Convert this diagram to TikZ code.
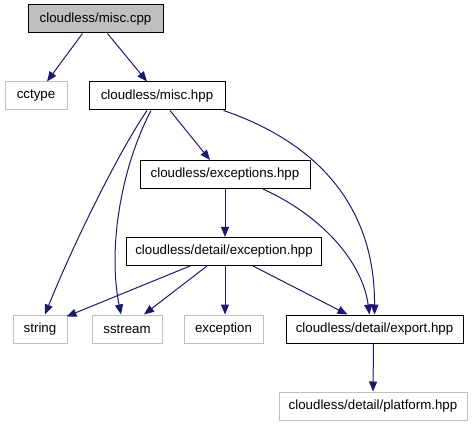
\documentclass[tikz,border=0pt]{standalone}
\usepackage{fontspec}
\setmainfont{Liberation Sans}
\usetikzlibrary{arrows.meta}
\definecolor{edgeblue}{HTML}{191970}
\definecolor{undoc}{HTML}{BFBFBF}
\tikzset{
  box/.style={rectangle, inner sep=0pt, minimum height=28pt, line width=1pt,
    font=\fontsize{13.3}{16}\selectfont, text=black},
  doc/.style={box, draw=black},
  root/.style={box, draw=black, fill=undoc},
  ext/.style={box, draw=undoc},
  dep/.style={draw=edgeblue, line width=1pt, -{Triangle[length=10pt,width=8pt]}, color=edgeblue}
}
\begin{document}
\begin{tikzpicture}[x=1pt,y=-1pt]
\useasboundingbox (0,0) rectangle (473,427);
\node[root, minimum width=135pt] (cpp) at (95.5,19) {cloudless/misc.cpp};
\node[ext, minimum width=62pt] (cctype) at (36,96) {cctype};
\node[doc, minimum width=136pt] (mischpp) at (157,96) {cloudless/misc.hpp};
\node[doc, minimum width=170pt] (exceptions) at (225,174.5) {cloudless/exceptions.hpp};
\node[doc, minimum width=195pt] (excdetail) at (224,251.5) {cloudless/detail/exception.hpp};
\node[ext, minimum width=54pt] (string) at (40,329) {string};
\node[ext, minimum width=70pt] (sstream) at (127,329) {sstream};
\node[ext, minimum width=79pt] (exception) at (223.5,329) {exception};
\node[doc, minimum width=177pt] (export) at (374.5,329) {cloudless/detail/export.hpp};
\node[ext, minimum width=188pt] (platform) at (373,406) {cloudless/detail/platform.hpp};

\draw[dep] ([xshift=-13pt]cpp.south) -- ([xshift=11pt]cctype.north);
\draw[dep] ([xshift=12pt]cpp.south) -- ([xshift=-10pt]mischpp.north);
\draw[dep] ([xshift=13pt]mischpp.south) -- ([xshift=-15pt]exceptions.north);
\draw[dep] ([xshift=-10pt]mischpp.south) .. controls (120,150) and (75,240) .. ([xshift=5pt]string.north);
\draw[dep] ([xshift=-6pt]mischpp.south) .. controls (120,170) and (108,250) .. ([xshift=-6pt]sstream.north);
\draw[dep] ([xshift=-2pt]mischpp.south east) .. controls (310,140) and (375,200) .. (export.north);
\draw[dep] (exceptions.south) -- ([xshift=1pt]excdetail.north);
\draw[dep] ([xshift=38pt]exceptions.south) .. controls (320,215) and (362,260) .. ([xshift=-5pt]export.north);
\draw[dep] ([xshift=-34pt]excdetail.south) -- ([xshift=-1pt,yshift=-2pt]string.north east);
\draw[dep] ([xshift=-17pt]excdetail.south) -- ([xshift=17pt]sstream.north);
\draw[dep] ([xshift=1pt]excdetail.south) -- ([xshift=1.5pt]exception.north);
\draw[dep] ([xshift=29pt]excdetail.south) -- ([xshift=-27pt]export.north);
\draw[dep] ([xshift=-1pt]export.south) -- (platform.north);
\end{tikzpicture}
\end{document}
